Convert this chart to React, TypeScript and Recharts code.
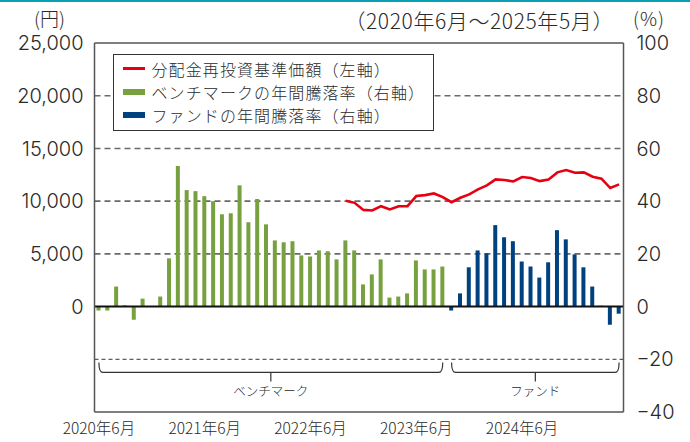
import React from "react";
import {
  ComposedChart,
  Bar,
  Line,
  XAxis,
  YAxis,
  CartesianGrid,
  ReferenceLine,
  Cell,
} from "recharts";

const months: string[] = [
  "2020年6月", "2020年7月", "2020年8月", "2020年9月", "2020年10月", "2020年11月", "2020年12月",
  "2021年1月", "2021年2月", "2021年3月", "2021年4月", "2021年5月", "2021年6月", "2021年7月",
  "2021年8月", "2021年9月", "2021年10月", "2021年11月", "2021年12月",
  "2022年1月", "2022年2月", "2022年3月", "2022年4月", "2022年5月", "2022年6月", "2022年7月",
  "2022年8月", "2022年9月", "2022年10月", "2022年11月", "2022年12月",
  "2023年1月", "2023年2月", "2023年3月", "2023年4月", "2023年5月", "2023年6月", "2023年7月",
  "2023年8月", "2023年9月", "2023年10月", "2023年11月", "2023年12月",
  "2024年1月", "2024年2月", "2024年3月", "2024年4月", "2024年5月", "2024年6月", "2024年7月",
  "2024年8月", "2024年9月", "2024年10月", "2024年11月", "2024年12月",
  "2025年1月", "2025年2月", "2025年3月", "2025年4月", "2025年5月",
];

// ベンチマークの年間騰落率（%）: 2020年6月〜2023年9月
const benchmarkRates: number[] = [
  -1.5, -1.5, 7.6, 0.5, -5.0, 3.0, 0, 3.8, 18.3, 53.3,
  44.2, 43.8, 41.9, 40.0, 35.0, 35.4, 46.0, 32.0, 40.8, 31.2,
  25.1, 24.4, 24.8, 19.4, 19.0, 21.3, 21.0, 17.9, 25.1, 21.3,
  8.4, 12.2, 17.9, 3.4, 3.8, 5.0, 17.5, 14.1, 14.1, 15.2,
];

// ファンドの年間騰落率（%）: 2023年10月〜2025年5月
const fundRates: number[] = [
  -1.5, 5.0, 14.9, 21.3, 20.2, 30.9, 26.3, 24.8, 17.1, 15.2,
  11.0, 16.8, 29.0, 25.5, 19.8, 14.9, 7.6, 0.3, -6.9, -2.7,
];

// 分配金再投資基準価額（円）: 2022年10月〜2025年5月
const navValues: number[] = [
  10030, 9840, 9170, 9110, 9520, 9210, 9520, 9520, 10480, 10570,
  10730, 10380, 9900, 10320, 10640, 11110, 11490, 12060, 12000, 11870,
  12290, 12190, 11900, 12060, 12730, 12950, 12700, 12730, 12320, 12130,
  11240, 11590,
];

const leftTicks: number[] = [0, 5000, 10000, 15000, 20000, 25000];
const rightTicks: number[] = [-40, -20, 0, 20, 40, 60, 80, 100];

const navStart = months.length - navValues.length;

const data = months.map((m, i) => ({
  m,
  rate: i < benchmarkRates.length ? benchmarkRates[i] : fundRates[i - benchmarkRates.length],
  nav: i >= navStart ? navValues[i - navStart] : null,
}));

const RED = "#e60012";
const GREEN = "#77a03f";
const BLUE = "#00427f";
const TEXT = "#2a2a2a";
const FONT = "'Noto Sans CJK JP', 'Noto Sans', sans-serif";
const NUMFONT = "Inter, 'Noto Sans', sans-serif";

const Bracket = (label: string) => (props: any) => {
  const { x1, x2, y1 } = props;
  const y = y1;
  const mid = (x1 + x2) / 2;
  const d = `M${x1},${y - 10} Q${x1},${y} ${x1 + 4},${y} L${x2 - 4},${y} Q${x2},${y} ${x2},${y - 10} M${mid},${y} L${mid},${y + 9}`;
  return (
    <g>
      <path d={d} fill="none" stroke="#333" strokeWidth={1.2} />
      <text x={mid} y={y + 24} textAnchor="middle" fontSize={12.5} fontWeight={300} fill={TEXT} fontFamily={FONT}>
        {label}
      </text>
    </g>
  );
};

const fmtRight = (v: number) => (v < 0 ? "\u2212" + Math.abs(v) : String(v));
const fmtLeft = (v: number) => v.toLocaleString("en-US");

const legendItems = [
  { label: "分配金再投資基準価額（左軸）", color: RED, line: true },
  { label: "ベンチマークの年間騰落率（右軸）", color: GREEN, line: false },
  { label: "ファンドの年間騰落率（右軸）", color: BLUE, line: false },
];

export default function App() {
  return (
    <div style={{ position: "absolute", left: 0, top: 0, width: 690, height: 442, background: "#fff", fontFamily: FONT }}>
      <div style={{ position: "absolute", left: 0, top: 0, width: 690, height: 2, background: "#0aa0b4" }} />
      <ComposedChart
        width={690}
        height={442}
        data={data}
        margin={{ top: 43, right: 0, bottom: 0, left: 0 }}
        barCategoryGap={0}
      >
        <CartesianGrid
          yAxisId="right"
          vertical={false}
          horizontalValues={[20, 40, 60, 80]}
          stroke="#6a6a6a"
          strokeWidth={1.6}
          strokeDasharray="6 4"
        />
        <XAxis
          dataKey="m"
          interval={11}
          height={30}
          tickLine={false}
          tickSize={6}
          tickMargin={5}
          axisLine={{ stroke: "#555", strokeWidth: 1.5 }}
          tick={{ fontSize: 15.5, fill: TEXT, fontFamily: FONT, fontWeight: 300 }}
        />
        <YAxis
          yAxisId="left"
          orientation="left"
          width={94.5}
          domain={[-10000, 25000]}
          ticks={leftTicks}
          tickFormatter={fmtLeft}
          tickLine={false}
          tickSize={6}
          tickMargin={5}
          axisLine={{ stroke: "#555", strokeWidth: 1.5 }}
          tick={{ fontSize: 20, fill: TEXT, fontFamily: NUMFONT, fontWeight: 300 }}
          allowDataOverflow
        />
        <YAxis
          yAxisId="right"
          orientation="right"
          width={66.5}
          domain={[-40, 100]}
          ticks={rightTicks}
          tickFormatter={fmtRight}
          tickLine={false}
          tickSize={6}
          tickMargin={7}
          axisLine={{ stroke: "#555", strokeWidth: 1.5 }}
          tick={{ fontSize: 20, fill: TEXT, fontFamily: NUMFONT, fontWeight: 300 }}
          allowDataOverflow
        />
        <ReferenceLine yAxisId="right" y={-20} stroke="#333" strokeWidth={1} strokeDasharray="4 3" />
        <ReferenceLine yAxisId="right" y={100} stroke="#555" strokeWidth={1.5} />
        <Bar yAxisId="right" dataKey="rate" barSize={4} isAnimationActive={false}>
          {data.map((d, i) => (
            <Cell key={i} fill={i < benchmarkRates.length ? GREEN : BLUE} />
          ))}
        </Bar>
        <ReferenceLine yAxisId="right" y={0} stroke="#111" strokeWidth={2} />
        <Line
          yAxisId="left"
          dataKey="nav"
          stroke={RED}
          strokeWidth={2.6}
          dot={false}
          activeDot={false}
          type="linear"
          isAnimationActive={false}
        />
        <ReferenceLine
          yAxisId="right"
          segment={[
            { x: months[0], y: -25 },
            { x: months[benchmarkRates.length - 1], y: -25 },
          ]}
          shape={Bracket("ベンチマーク")}
        />
        <ReferenceLine
          yAxisId="right"
          segment={[
            { x: months[benchmarkRates.length], y: -25 },
            { x: months[months.length - 1], y: -25 },
          ]}
          shape={Bracket("ファンド")}
        />
      </ComposedChart>

      <div style={{ position: "absolute", left: 34, top: 8, fontSize: 19, fontWeight: 300, color: TEXT, lineHeight: "20px" }}>(円)</div>
      <div
        style={{
          position: "absolute",
          right: 76,
          top: 9,
          fontSize: 21,
          fontWeight: 300,
          letterSpacing: 0.6,
          color: TEXT,
          lineHeight: "22px",
          whiteSpace: "nowrap",
        }}
      >
        （2020年6月～2025年5月）
      </div>
      <div style={{ position: "absolute", left: 633, top: 8, fontSize: 19, fontWeight: 300, color: TEXT, lineHeight: "20px", letterSpacing: 1 }}>(%)</div>

      <div
        style={{
          position: "absolute",
          left: 112.5,
          top: 54,
          width: 321.5,
          height: 76.5,
          boxSizing: "border-box",
          border: "1.5px solid #333",
          background: "#fff",
          paddingTop: 2,
          paddingLeft: 9,
          fontSize: 16,
          fontWeight: 300,
          color: TEXT,
        }}
      >
        {legendItems.map((r) => (
          <div key={r.label} style={{ display: "flex", alignItems: "center", height: 23.4, lineHeight: "20px", whiteSpace: "nowrap" }}>
            <span
              style={{
                display: "inline-block",
                width: 22,
                height: r.line ? 2.5 : 6,
                background: r.color,
                marginRight: 7,
              }}
            />
            <span style={{ letterSpacing: 1.1 }}>{r.label}</span>
          </div>
        ))}
      </div>
    </div>
  );
}
